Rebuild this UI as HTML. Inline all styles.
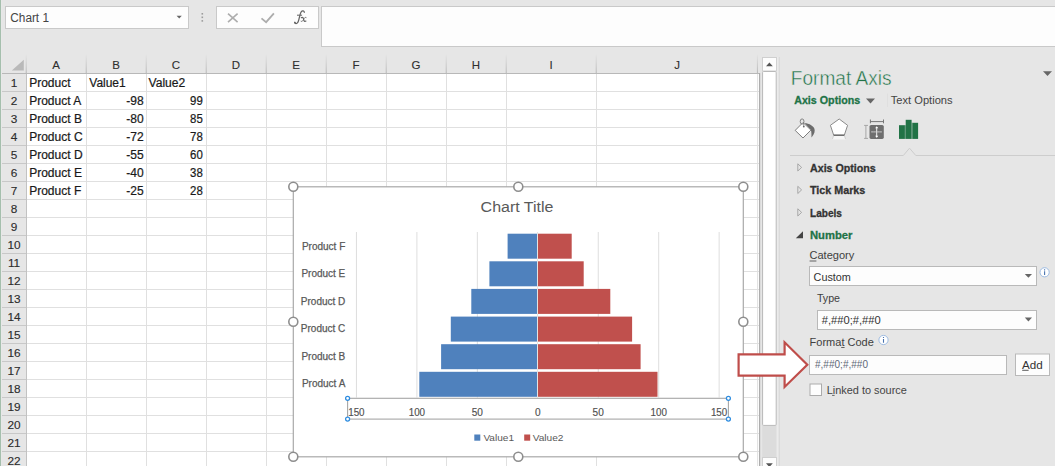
<!DOCTYPE html>
<html><head><meta charset="utf-8"><title>Format Axis</title>
<style>
html,body{margin:0;padding:0;background:#e6e6e6;}
body{width:1055px;height:466px;overflow:hidden;}
svg{display:block;font-family:"Liberation Sans",sans-serif;}
</style></head><body>
<svg width="1055" height="466" viewBox="0 0 1055 466">
<rect x="0" y="0" width="1055" height="466" fill="#e6e6e6" />
<rect x="0" y="0" width="1" height="466" fill="#a5bfad" />
<rect x="1" y="0" width="0.6" height="466" fill="#eaeaea" />
<rect x="5.5" y="6.5" width="183" height="22" fill="#fdfdfd" stroke="#c9c9c9" stroke-width="1" />
<text x="10.3" y="22" font-size="12" fill="#444" textLength="38.7" lengthAdjust="spacingAndGlyphs" >Chart 1</text>
<path d="M176.6 15.8h5.2l-2.6 2.8z" fill="#666"/>
<rect x="201.5" y="13.0" width="1.6" height="1.6" fill="#9c9c9c" />
<rect x="201.5" y="16.5" width="1.6" height="1.6" fill="#9c9c9c" />
<rect x="201.5" y="20.099999999999998" width="1.6" height="1.6" fill="#9c9c9c" />
<rect x="216.5" y="6.5" width="102" height="22" fill="#fdfdfd" stroke="#c9c9c9" stroke-width="1" />
<path d="M228 13.6l9.6 8.6M237.6 13.6l-9.6 8.6" stroke="#adadad" stroke-width="1.6" fill="none"/>
<path d="M261.5 18.4l4.6 3.8l7.8-8.8" stroke="#adadad" stroke-width="1.8" fill="none"/>
<g fill="none" stroke="#636363" stroke-linecap="round"><path d="M304.3 12.3C304.3 10.7 302.3 10.3 301.3 11.7C300.1 13.3 299.7 16 298.9 19.4C298.3 22 297.5 23.5 296.1 23.5C295.1 23.5 294.6 22.9 294.8 22.3" stroke-width="1.25"/><path d="M297.4 15.2H301.7" stroke-width="1"/><path d="M301.3 17.7C302.4 16.9 303.2 17.5 303.6 19.4C304 21.3 304.8 21.9 305.9 21.1" stroke-width="1.2"/><path d="M306.1 17.5C305.1 16.9 304.4 17.9 303.6 19.4C302.8 20.9 302.2 21.9 301.1 21.3" stroke-width="0.9"/></g>
<circle cx="294.9" cy="22.6" r="0.9" fill="#636363"/>
<rect x="321.5" y="6.5" width="740" height="40" fill="#fdfdfd" stroke="#c9c9c9" stroke-width="1" />
<rect x="26" y="74" width="733.2" height="392" fill="#fff" />
<rect x="86" y="74" width="1" height="392" fill="#e0e0e0" />
<rect x="146" y="74" width="1" height="392" fill="#e0e0e0" />
<rect x="206" y="74" width="1" height="392" fill="#e0e0e0" />
<rect x="266" y="74" width="1" height="392" fill="#e0e0e0" />
<rect x="326" y="74" width="1" height="392" fill="#e0e0e0" />
<rect x="386" y="74" width="1" height="392" fill="#e0e0e0" />
<rect x="446" y="74" width="1" height="392" fill="#e0e0e0" />
<rect x="506" y="74" width="1" height="392" fill="#e0e0e0" />
<rect x="596" y="74" width="1" height="392" fill="#e0e0e0" />
<rect x="757.1" y="74" width="1" height="392" fill="#e0e0e0" />
<rect x="27" y="91" width="732" height="1" fill="#e0e0e0" />
<rect x="27" y="109" width="732" height="1" fill="#e0e0e0" />
<rect x="27" y="127" width="732" height="1" fill="#e0e0e0" />
<rect x="27" y="145" width="732" height="1" fill="#e0e0e0" />
<rect x="27" y="163" width="732" height="1" fill="#e0e0e0" />
<rect x="27" y="181" width="732" height="1" fill="#e0e0e0" />
<rect x="27" y="199" width="732" height="1" fill="#e0e0e0" />
<rect x="27" y="217" width="732" height="1" fill="#e0e0e0" />
<rect x="27" y="235" width="732" height="1" fill="#e0e0e0" />
<rect x="27" y="253" width="732" height="1" fill="#e0e0e0" />
<rect x="27" y="271" width="732" height="1" fill="#e0e0e0" />
<rect x="27" y="289" width="732" height="1" fill="#e0e0e0" />
<rect x="27" y="307" width="732" height="1" fill="#e0e0e0" />
<rect x="27" y="325" width="732" height="1" fill="#e0e0e0" />
<rect x="27" y="343" width="732" height="1" fill="#e0e0e0" />
<rect x="27" y="361" width="732" height="1" fill="#e0e0e0" />
<rect x="27" y="379" width="732" height="1" fill="#e0e0e0" />
<rect x="27" y="397" width="732" height="1" fill="#e0e0e0" />
<rect x="27" y="415" width="732" height="1" fill="#e0e0e0" />
<rect x="27" y="433" width="732" height="1" fill="#e0e0e0" />
<rect x="27" y="451" width="732" height="1" fill="#e0e0e0" />
<rect x="27" y="469" width="732" height="1" fill="#e0e0e0" />
<defs><linearGradient id="hs" x1="0" y1="0" x2="0" y2="1"><stop offset="0" stop-color="#e4e4e4"/><stop offset="1" stop-color="#b4b4b4"/></linearGradient></defs>
<rect x="25.7" y="54.5" width="1" height="19.5" fill="url(#hs)" />
<rect x="85.7" y="54.5" width="1" height="19.5" fill="url(#hs)" />
<rect x="145.7" y="54.5" width="1" height="19.5" fill="url(#hs)" />
<rect x="205.7" y="54.5" width="1" height="19.5" fill="url(#hs)" />
<rect x="265.7" y="54.5" width="1" height="19.5" fill="url(#hs)" />
<rect x="325.7" y="54.5" width="1" height="19.5" fill="url(#hs)" />
<rect x="385.7" y="54.5" width="1" height="19.5" fill="url(#hs)" />
<rect x="445.7" y="54.5" width="1" height="19.5" fill="url(#hs)" />
<rect x="505.7" y="54.5" width="1" height="19.5" fill="url(#hs)" />
<rect x="595.7" y="54.5" width="1" height="19.5" fill="url(#hs)" />
<rect x="756.9" y="54.5" width="1" height="19.5" fill="url(#hs)" />
<rect x="2" y="73" width="758" height="1" fill="#b8b8b8" />
<rect x="26" y="74" width="1" height="392" fill="#c2c2c2" />
<rect x="2" y="91" width="24" height="1" fill="#c8c8c8" />
<rect x="2" y="109" width="24" height="1" fill="#c8c8c8" />
<rect x="2" y="127" width="24" height="1" fill="#c8c8c8" />
<rect x="2" y="145" width="24" height="1" fill="#c8c8c8" />
<rect x="2" y="163" width="24" height="1" fill="#c8c8c8" />
<rect x="2" y="181" width="24" height="1" fill="#c8c8c8" />
<rect x="2" y="199" width="24" height="1" fill="#c8c8c8" />
<rect x="2" y="217" width="24" height="1" fill="#c8c8c8" />
<rect x="2" y="235" width="24" height="1" fill="#c8c8c8" />
<rect x="2" y="253" width="24" height="1" fill="#c8c8c8" />
<rect x="2" y="271" width="24" height="1" fill="#c8c8c8" />
<rect x="2" y="289" width="24" height="1" fill="#c8c8c8" />
<rect x="2" y="307" width="24" height="1" fill="#c8c8c8" />
<rect x="2" y="325" width="24" height="1" fill="#c8c8c8" />
<rect x="2" y="343" width="24" height="1" fill="#c8c8c8" />
<rect x="2" y="361" width="24" height="1" fill="#c8c8c8" />
<rect x="2" y="379" width="24" height="1" fill="#c8c8c8" />
<rect x="2" y="397" width="24" height="1" fill="#c8c8c8" />
<rect x="2" y="415" width="24" height="1" fill="#c8c8c8" />
<rect x="2" y="433" width="24" height="1" fill="#c8c8c8" />
<rect x="2" y="451" width="24" height="1" fill="#c8c8c8" />
<rect x="2" y="469" width="24" height="1" fill="#c8c8c8" />
<rect x="759" y="73" width="1.2" height="393" fill="#adadad" />
<path d="M23.8 59.7V70.6H11.8z" fill="#b9b9b9"/>
<text x="56" y="69.3" font-size="11.5" fill="#2e2e2e" text-anchor="middle" stroke="#2e2e2e" stroke-width="0.1">A</text>
<text x="116" y="69.3" font-size="11.5" fill="#2e2e2e" text-anchor="middle" stroke="#2e2e2e" stroke-width="0.1">B</text>
<text x="176" y="69.3" font-size="11.5" fill="#2e2e2e" text-anchor="middle" stroke="#2e2e2e" stroke-width="0.1">C</text>
<text x="236" y="69.3" font-size="11.5" fill="#2e2e2e" text-anchor="middle" stroke="#2e2e2e" stroke-width="0.1">D</text>
<text x="296" y="69.3" font-size="11.5" fill="#2e2e2e" text-anchor="middle" stroke="#2e2e2e" stroke-width="0.1">E</text>
<text x="356" y="69.3" font-size="11.5" fill="#2e2e2e" text-anchor="middle" stroke="#2e2e2e" stroke-width="0.1">F</text>
<text x="416" y="69.3" font-size="11.5" fill="#2e2e2e" text-anchor="middle" stroke="#2e2e2e" stroke-width="0.1">G</text>
<text x="476" y="69.3" font-size="11.5" fill="#2e2e2e" text-anchor="middle" stroke="#2e2e2e" stroke-width="0.1">H</text>
<text x="551" y="69.3" font-size="11.5" fill="#2e2e2e" text-anchor="middle" stroke="#2e2e2e" stroke-width="0.1">I</text>
<text x="677" y="69.3" font-size="11.5" fill="#2e2e2e" text-anchor="middle" stroke="#2e2e2e" stroke-width="0.1">J</text>
<text x="14" y="87.2" font-size="11.8" fill="#2c2c2c" text-anchor="middle" stroke="#2c2c2c" stroke-width="0.12">1</text>
<text x="14" y="105.2" font-size="11.8" fill="#2c2c2c" text-anchor="middle" stroke="#2c2c2c" stroke-width="0.12">2</text>
<text x="14" y="123.2" font-size="11.8" fill="#2c2c2c" text-anchor="middle" stroke="#2c2c2c" stroke-width="0.12">3</text>
<text x="14" y="141.2" font-size="11.8" fill="#2c2c2c" text-anchor="middle" stroke="#2c2c2c" stroke-width="0.12">4</text>
<text x="14" y="159.2" font-size="11.8" fill="#2c2c2c" text-anchor="middle" stroke="#2c2c2c" stroke-width="0.12">5</text>
<text x="14" y="177.2" font-size="11.8" fill="#2c2c2c" text-anchor="middle" stroke="#2c2c2c" stroke-width="0.12">6</text>
<text x="14" y="195.2" font-size="11.8" fill="#2c2c2c" text-anchor="middle" stroke="#2c2c2c" stroke-width="0.12">7</text>
<text x="14" y="213.2" font-size="11.8" fill="#2c2c2c" text-anchor="middle" stroke="#2c2c2c" stroke-width="0.12">8</text>
<text x="14" y="231.2" font-size="11.8" fill="#2c2c2c" text-anchor="middle" stroke="#2c2c2c" stroke-width="0.12">9</text>
<text x="14" y="249.2" font-size="11.8" fill="#2c2c2c" text-anchor="middle" stroke="#2c2c2c" stroke-width="0.12">10</text>
<text x="14" y="267.2" font-size="11.8" fill="#2c2c2c" text-anchor="middle" stroke="#2c2c2c" stroke-width="0.12">11</text>
<text x="14" y="285.2" font-size="11.8" fill="#2c2c2c" text-anchor="middle" stroke="#2c2c2c" stroke-width="0.12">12</text>
<text x="14" y="303.2" font-size="11.8" fill="#2c2c2c" text-anchor="middle" stroke="#2c2c2c" stroke-width="0.12">13</text>
<text x="14" y="321.2" font-size="11.8" fill="#2c2c2c" text-anchor="middle" stroke="#2c2c2c" stroke-width="0.12">14</text>
<text x="14" y="339.2" font-size="11.8" fill="#2c2c2c" text-anchor="middle" stroke="#2c2c2c" stroke-width="0.12">15</text>
<text x="14" y="357.2" font-size="11.8" fill="#2c2c2c" text-anchor="middle" stroke="#2c2c2c" stroke-width="0.12">16</text>
<text x="14" y="375.2" font-size="11.8" fill="#2c2c2c" text-anchor="middle" stroke="#2c2c2c" stroke-width="0.12">17</text>
<text x="14" y="393.2" font-size="11.8" fill="#2c2c2c" text-anchor="middle" stroke="#2c2c2c" stroke-width="0.12">18</text>
<text x="14" y="411.2" font-size="11.8" fill="#2c2c2c" text-anchor="middle" stroke="#2c2c2c" stroke-width="0.12">19</text>
<text x="14" y="429.2" font-size="11.8" fill="#2c2c2c" text-anchor="middle" stroke="#2c2c2c" stroke-width="0.12">20</text>
<text x="14" y="447.2" font-size="11.8" fill="#2c2c2c" text-anchor="middle" stroke="#2c2c2c" stroke-width="0.12">21</text>
<text x="14" y="465.2" font-size="11.8" fill="#2c2c2c" text-anchor="middle" stroke="#2c2c2c" stroke-width="0.12">22</text>
<text x="29.2" y="87.2" font-size="12" fill="#1a1a1a" stroke="#1a1a1a" stroke-width="0.22">Product</text>
<text x="89.3" y="87.2" font-size="12" fill="#1a1a1a" textLength="36.4" lengthAdjust="spacingAndGlyphs" stroke="#1a1a1a" stroke-width="0.22">Value1</text>
<text x="148.5" y="87.2" font-size="12" fill="#1a1a1a" textLength="36.8" lengthAdjust="spacingAndGlyphs" stroke="#1a1a1a" stroke-width="0.22">Value2</text>
<text x="29.2" y="105.2" font-size="12" fill="#1a1a1a" stroke="#1a1a1a" stroke-width="0.22">Product A</text>
<text x="143.6" y="105.2" font-size="12" fill="#1a1a1a" text-anchor="end" stroke="#1a1a1a" stroke-width="0.22">-98</text>
<text x="202.8" y="105.2" font-size="12" fill="#1a1a1a" text-anchor="end" textLength="12.7" lengthAdjust="spacingAndGlyphs" stroke="#1a1a1a" stroke-width="0.22">99</text>
<text x="29.2" y="123.2" font-size="12" fill="#1a1a1a" stroke="#1a1a1a" stroke-width="0.22">Product B</text>
<text x="143.6" y="123.2" font-size="12" fill="#1a1a1a" text-anchor="end" stroke="#1a1a1a" stroke-width="0.22">-80</text>
<text x="202.8" y="123.2" font-size="12" fill="#1a1a1a" text-anchor="end" textLength="12.7" lengthAdjust="spacingAndGlyphs" stroke="#1a1a1a" stroke-width="0.22">85</text>
<text x="29.2" y="141.2" font-size="12" fill="#1a1a1a" stroke="#1a1a1a" stroke-width="0.22">Product C</text>
<text x="143.6" y="141.2" font-size="12" fill="#1a1a1a" text-anchor="end" stroke="#1a1a1a" stroke-width="0.22">-72</text>
<text x="202.8" y="141.2" font-size="12" fill="#1a1a1a" text-anchor="end" textLength="12.7" lengthAdjust="spacingAndGlyphs" stroke="#1a1a1a" stroke-width="0.22">78</text>
<text x="29.2" y="159.2" font-size="12" fill="#1a1a1a" stroke="#1a1a1a" stroke-width="0.22">Product D</text>
<text x="143.6" y="159.2" font-size="12" fill="#1a1a1a" text-anchor="end" stroke="#1a1a1a" stroke-width="0.22">-55</text>
<text x="202.8" y="159.2" font-size="12" fill="#1a1a1a" text-anchor="end" textLength="12.7" lengthAdjust="spacingAndGlyphs" stroke="#1a1a1a" stroke-width="0.22">60</text>
<text x="29.2" y="177.2" font-size="12" fill="#1a1a1a" stroke="#1a1a1a" stroke-width="0.22">Product E</text>
<text x="143.6" y="177.2" font-size="12" fill="#1a1a1a" text-anchor="end" stroke="#1a1a1a" stroke-width="0.22">-40</text>
<text x="202.8" y="177.2" font-size="12" fill="#1a1a1a" text-anchor="end" textLength="12.7" lengthAdjust="spacingAndGlyphs" stroke="#1a1a1a" stroke-width="0.22">38</text>
<text x="29.2" y="195.2" font-size="12" fill="#1a1a1a" stroke="#1a1a1a" stroke-width="0.22">Product F</text>
<text x="143.6" y="195.2" font-size="12" fill="#1a1a1a" text-anchor="end" stroke="#1a1a1a" stroke-width="0.22">-25</text>
<text x="202.8" y="195.2" font-size="12" fill="#1a1a1a" text-anchor="end" textLength="12.7" lengthAdjust="spacingAndGlyphs" stroke="#1a1a1a" stroke-width="0.22">28</text>
<rect x="762.5" y="57.5" width="14" height="13.5" fill="#fdfdfd" stroke="#cfcfcf" stroke-width="1" />
<path d="M766 66.3h6.8l-3.4-3.8z" fill="#555"/>
<rect x="762.2" y="71" width="14.2" height="386" fill="#dcdcdc" />
<rect x="762.6" y="71.5" width="13.6" height="353.9" fill="#fff" stroke="#b9b9b9" stroke-width="1" rx="1"/>
<rect x="762.5" y="457.5" width="14" height="12" fill="#fdfdfd" stroke="#cfcfcf" stroke-width="1" />
<path d="M766 463.3h6.8l-3.4 3.8z" fill="#555"/>
<rect x="776.9" y="57" width="1.8" height="409" fill="#ebebeb" />
<rect x="778.7" y="57" width="1" height="409" fill="#d6d6d6" />
<rect x="293.3" y="186.8" width="449.99999999999994" height="270.0" fill="#fff" stroke="#a9a9a9" stroke-width="1.2"/>
<line x1="356.44999999999993" y1="232" x2="356.44999999999993" y2="397.5" stroke="#dedede" stroke-width="1" />
<line x1="416.9" y1="232" x2="416.9" y2="397.5" stroke="#dedede" stroke-width="1" />
<line x1="477.34999999999997" y1="232" x2="477.34999999999997" y2="397.5" stroke="#dedede" stroke-width="1" />
<line x1="598.25" y1="232" x2="598.25" y2="397.5" stroke="#dedede" stroke-width="1" />
<line x1="658.6999999999999" y1="232" x2="658.6999999999999" y2="397.5" stroke="#dedede" stroke-width="1" />
<line x1="719.15" y1="232" x2="719.15" y2="397.5" stroke="#dedede" stroke-width="1" />
<rect x="507.6" y="233.7" width="30.2" height="25" fill="#4f81bd" />
<rect x="537.8" y="233.7" width="33.9" height="25" fill="#c0504d" />
<text x="345.3" y="249.6" font-size="10" fill="#595959" text-anchor="end" stroke="#595959" stroke-width="0.25">Product F</text>
<rect x="489.4" y="261.3" width="48.4" height="25" fill="#4f81bd" />
<rect x="537.8" y="261.3" width="45.9" height="25" fill="#c0504d" />
<text x="345.3" y="277.1" font-size="10" fill="#595959" text-anchor="end" stroke="#595959" stroke-width="0.25">Product E</text>
<rect x="471.3" y="288.9" width="66.5" height="25" fill="#4f81bd" />
<rect x="537.8" y="288.9" width="72.5" height="25" fill="#c0504d" />
<text x="345.3" y="304.7" font-size="10" fill="#595959" text-anchor="end" stroke="#595959" stroke-width="0.25">Product D</text>
<rect x="450.8" y="316.6" width="87.0" height="25" fill="#4f81bd" />
<rect x="537.8" y="316.6" width="94.3" height="25" fill="#c0504d" />
<text x="345.3" y="332.2" font-size="10" fill="#595959" text-anchor="end" stroke="#595959" stroke-width="0.25">Product C</text>
<rect x="441.1" y="344.2" width="96.7" height="25" fill="#4f81bd" />
<rect x="537.8" y="344.2" width="102.8" height="25" fill="#c0504d" />
<text x="345.3" y="359.8" font-size="10" fill="#595959" text-anchor="end" stroke="#595959" stroke-width="0.25">Product B</text>
<rect x="419.3" y="371.8" width="118.5" height="25" fill="#4f81bd" />
<rect x="537.8" y="371.8" width="119.7" height="25" fill="#c0504d" />
<text x="345.3" y="387.3" font-size="10" fill="#595959" text-anchor="end" stroke="#595959" stroke-width="0.25">Product A</text>
<line x1="537.5" y1="232" x2="537.5" y2="397.5" stroke="#e4e4e4" stroke-width="1" />
<text x="480.6" y="211.5" font-size="15.2" fill="#595959" textLength="72.8" lengthAdjust="spacingAndGlyphs" >Chart Title</text>
<rect x="347.6" y="398.3" width="380.8" height="20.8" fill="none" stroke="#a6a6a6" stroke-width="1.1" />
<text x="356.4" y="415.7" font-size="10" fill="#505050" text-anchor="middle" textLength="16.4" lengthAdjust="spacingAndGlyphs" stroke="#505050" stroke-width="0.15">150</text>
<text x="416.9" y="415.7" font-size="10" fill="#505050" text-anchor="middle" textLength="16.4" lengthAdjust="spacingAndGlyphs" stroke="#505050" stroke-width="0.15">100</text>
<text x="477.3" y="415.7" font-size="10" fill="#505050" text-anchor="middle" textLength="11.2" lengthAdjust="spacingAndGlyphs" stroke="#505050" stroke-width="0.15">50</text>
<text x="537.8" y="415.7" font-size="10" fill="#505050" text-anchor="middle" textLength="5.6" lengthAdjust="spacingAndGlyphs" stroke="#505050" stroke-width="0.15">0</text>
<text x="598.2" y="415.7" font-size="10" fill="#505050" text-anchor="middle" textLength="11.2" lengthAdjust="spacingAndGlyphs" stroke="#505050" stroke-width="0.15">50</text>
<text x="658.7" y="415.7" font-size="10" fill="#505050" text-anchor="middle" textLength="16.4" lengthAdjust="spacingAndGlyphs" stroke="#505050" stroke-width="0.15">100</text>
<text x="719.1" y="415.7" font-size="10" fill="#505050" text-anchor="middle" textLength="16.4" lengthAdjust="spacingAndGlyphs" stroke="#505050" stroke-width="0.15">150</text>
<circle cx="347.6" cy="398.3" r="2" fill="#fff" stroke="#2f8de0" stroke-width="1.25"/>
<circle cx="347.6" cy="419.1" r="2" fill="#fff" stroke="#2f8de0" stroke-width="1.25"/>
<circle cx="728.4" cy="398.3" r="2" fill="#fff" stroke="#2f8de0" stroke-width="1.25"/>
<circle cx="728.4" cy="419.1" r="2" fill="#fff" stroke="#2f8de0" stroke-width="1.25"/>
<rect x="474.3" y="434.5" width="6" height="6.2" fill="#4f81bd" />
<text x="483.4" y="440.5" font-size="9.8" fill="#595959" textLength="30.6" lengthAdjust="spacingAndGlyphs" >Value1</text>
<rect x="524.2" y="434.5" width="6" height="6.2" fill="#c0504d" />
<text x="532.7" y="440.5" font-size="9.8" fill="#595959" textLength="30.8" lengthAdjust="spacingAndGlyphs" >Value2</text>
<circle cx="293.3" cy="186.8" r="4.5" fill="#fff" stroke="#8e8e8e" stroke-width="1.6"/>
<circle cx="518.3" cy="186.8" r="4.5" fill="#fff" stroke="#8e8e8e" stroke-width="1.6"/>
<circle cx="743.3" cy="186.8" r="4.5" fill="#fff" stroke="#8e8e8e" stroke-width="1.6"/>
<circle cx="293.3" cy="321.8" r="4.5" fill="#fff" stroke="#8e8e8e" stroke-width="1.6"/>
<circle cx="743.3" cy="321.8" r="4.5" fill="#fff" stroke="#8e8e8e" stroke-width="1.6"/>
<circle cx="293.3" cy="456.8" r="4.5" fill="#fff" stroke="#8e8e8e" stroke-width="1.6"/>
<circle cx="518.3" cy="456.8" r="4.5" fill="#fff" stroke="#8e8e8e" stroke-width="1.6"/>
<circle cx="743.3" cy="456.8" r="4.5" fill="#fff" stroke="#8e8e8e" stroke-width="1.6"/>
<text x="790.8" y="84.7" font-size="20.5" fill="#217346" textLength="100.7" lengthAdjust="spacingAndGlyphs" stroke="#e6e6e6" stroke-width="0.45">Format Axis</text>
<path d="M1043 71.2h9l-4.5 4.8z" fill="#666"/>
<text x="794.2" y="104.4" font-size="11" fill="#217346" font-weight="bold" textLength="66" lengthAdjust="spacingAndGlyphs" stroke="#217346" stroke-width="0.3">Axis Options</text>
<rect x="887" y="93.5" width="1" height="13.5" fill="#dfdfdf" />
<path d="M866 98.6h9l-4.5 4.8z" fill="#666"/>
<text x="890.8" y="104.3" font-size="11.5" fill="#444" textLength="61.8" lengthAdjust="spacingAndGlyphs" >Text Options</text>
<path d="M804.6 123.1C809 123.6 814.4 126 814.7 130.2C814.9 133.2 812.6 136 811.4 137.6C811.6 134.6 811.4 132 810.9 130.1Z" fill="#6c6c6c"/>
<path d="M803 122.5L810.9 130.1L803 138L795.2 130.4Z" fill="#fff" stroke="#707070" stroke-width="0.9"/>
<ellipse cx="802.1" cy="121.5" rx="1.9" ry="2.6" fill="none" stroke="#777" stroke-width="0.9"/>
<path d="M803.6 123.2L803.8 126" stroke="#777" stroke-width="0.8"/><circle cx="803.8" cy="126.6" r="0.9" fill="#666"/>
<path d="M833.4 136L832.4 139.4H845.6L844.6 136Z" fill="#f6f6f6"/>
<path d="M833.5 135.8L832.5 139M844.5 135.8L845.5 139" stroke="#c8c8c8" stroke-width="0.8" fill="none"/>
<path d="M839.2 119L847.6 125.3L844.3 135.2H833.7L830.4 125.3Z" fill="#fff" stroke="#8a8a8a" stroke-width="1"/>
<path d="M833.7 135.2H844.3" stroke="#666" stroke-width="1.3"/>
<rect x="869.5" y="124.9" width="14.3" height="14" fill="#6e6e6e" rx="1.6"/>
<path d="M870.1 121.6h13.7M870.4 119.5v3.8M883.5 119.5v3.8" stroke="#777" stroke-width="1" fill="none"/>
<path d="M865.9 125.2v13.4M864.1 125.4h3.9M864.1 138.4h3.9" stroke="#a6a6a6" stroke-width="1" fill="none"/>
<path d="M876.7 127v10.2" stroke="#fff" stroke-width="0.9" fill="none"/>
<path d="M871.4 131.9h10.6" stroke="#d8d8d8" stroke-width="1.1" stroke-dasharray="1.3 0.7" fill="none"/>
<path d="M876.7 126.2l1.6 2h-3.2zM876.7 137.8l1.6 -2h-3.2z" fill="#fff"/>
<rect x="899" y="125.2" width="5.9" height="13.7" fill="#217346" />
<rect x="905.7" y="119.8" width="5.9" height="19.1" fill="#217346" />
<rect x="912.3" y="122.8" width="5.8" height="16.1" fill="#217346" />
<rect x="904.9" y="125.2" width="0.8" height="13.7" fill="#3f8560" />
<rect x="911.6" y="122.8" width="0.7" height="16.1" fill="#3f8560" />
<path d="M790 155.5H903.3L909.5 148.2L915.8 155.5H1055" stroke="#cdcdcd" stroke-width="1" fill="none"/>
<text x="810" y="171.7" font-size="11" fill="#333" font-weight="bold" textLength="65.8" lengthAdjust="spacingAndGlyphs" stroke="#333" stroke-width="0.3">Axis Options</text>
<path d="M797.8 163.8L801.6 167.4L797.8 171.0Z" fill="none" stroke="#a0a0a0" stroke-width="0.9"/>
<text x="810" y="194.2" font-size="11" fill="#333" font-weight="bold" textLength="55.3" lengthAdjust="spacingAndGlyphs" stroke="#333" stroke-width="0.3">Tick Marks</text>
<path d="M797.8 186.3L801.6 189.9L797.8 193.5Z" fill="none" stroke="#a0a0a0" stroke-width="0.9"/>
<text x="810" y="216.7" font-size="11" fill="#333" font-weight="bold" textLength="32" lengthAdjust="spacingAndGlyphs" stroke="#333" stroke-width="0.3">Labels</text>
<path d="M797.8 208.8L801.6 212.4L797.8 216.0Z" fill="none" stroke="#a0a0a0" stroke-width="0.9"/>
<text x="810" y="239.2" font-size="11" fill="#217346" font-weight="bold" textLength="42.5" lengthAdjust="spacingAndGlyphs" stroke="#217346" stroke-width="0.3">Number</text>
<path d="M803 231.3V238.3H795.8Z" fill="#444"/>
<text x="809.5" y="259.2" font-size="11.5" fill="#404040" textLength="44.8" lengthAdjust="spacingAndGlyphs" >Category</text>
<line x1="809.6" y1="261" x2="816.4" y2="261" stroke="#404040" stroke-width="0.8" />
<rect x="809.5" y="266.5" width="227" height="19" fill="#fdfdfd" stroke="#b9b9b9" stroke-width="1" />
<text x="813.6" y="280.7" font-size="11.5" fill="#333" textLength="37.3" lengthAdjust="spacingAndGlyphs" >Custom</text>
<path d="M1024.8 274h7.2l-3.6 3.8z" fill="#666"/>
<circle cx="1044.6" cy="272.3" r="4.6" fill="#fff" stroke="#94b6e0" stroke-width="0.9"/><path d="M1044.6 271.3v3.7M1044.6 269.3v1.1" stroke="#4a74b0" stroke-width="1.1"/>
<text x="816.9" y="302.3" font-size="11.5" fill="#404040" textLength="23.1" lengthAdjust="spacingAndGlyphs" >Type</text>
<rect x="817.5" y="310.5" width="219" height="19" fill="#fdfdfd" stroke="#b9b9b9" stroke-width="1" />
<text x="821.7" y="324.2" font-size="11.5" fill="#333" textLength="59.1" lengthAdjust="spacingAndGlyphs" >#,##0;#,##0</text>
<path d="M1024.8 317.6h7.2l-3.6 3.8z" fill="#666"/>
<text x="809.6" y="345.8" font-size="11.5" fill="#404040" textLength="64.2" lengthAdjust="spacingAndGlyphs" >Format Code</text>
<line x1="841.2" y1="347.5" x2="844.6" y2="347.5" stroke="#404040" stroke-width="0.8" />
<circle cx="883.5" cy="340" r="4.6" fill="#fff" stroke="#94b6e0" stroke-width="0.9"/><path d="M883.5 339v3.7M883.5 337v1.1" stroke="#4a74b0" stroke-width="1.1"/>
<rect x="809.5" y="355.5" width="197" height="19" fill="#fdfdfd" stroke="#b9b9b9" stroke-width="1" />
<text x="815" y="367.6" font-size="10" fill="#5f6878" textLength="53" lengthAdjust="spacingAndGlyphs" >#,##0;#,##0</text>
<rect x="1015.5" y="354" width="34" height="21.5" fill="#fdfdfd" stroke="#b9b9b9" stroke-width="1" />
<text x="1022" y="369" font-size="11.5" fill="#333" textLength="20.7" lengthAdjust="spacingAndGlyphs" >Add</text>
<line x1="1022.2" y1="370.3" x2="1028.6" y2="370.3" stroke="#333" stroke-width="0.8" />
<rect x="810" y="384" width="11.5" height="11.5" fill="#fdfdfd" stroke="#ababab" stroke-width="1" />
<text x="826.7" y="393.7" font-size="11.5" fill="#444" textLength="80.2" lengthAdjust="spacingAndGlyphs" >Linked to source</text>
<line x1="832.1" y1="395.4" x2="834.6" y2="395.4" stroke="#444" stroke-width="0.8" />
<path d="M738.6 354.3H784.6V342.3L807.3 364.7L784.6 387V375.6H738.6Z" fill="#fff" stroke="#bf4d4a" stroke-width="2.2" stroke-linejoin="miter"/>
</svg>
</body></html>
